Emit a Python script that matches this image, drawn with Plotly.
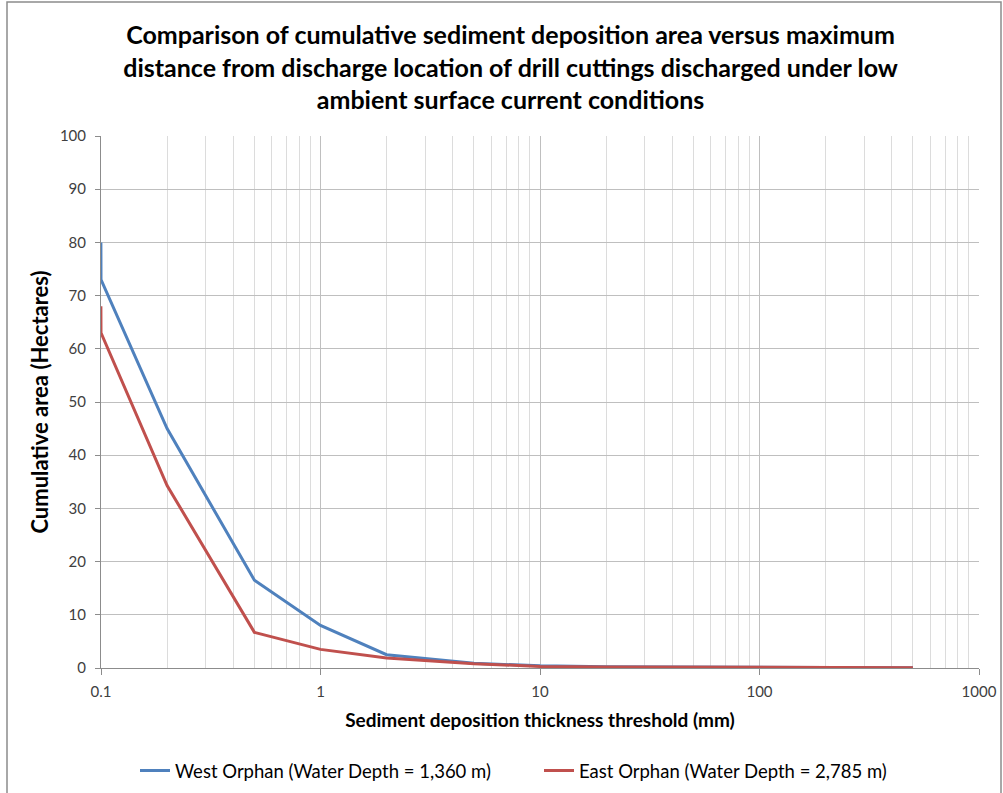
import plotly.graph_objects as go

# Data
thickness_mm = [0.0999, 0.1, 0.2, 0.5, 1, 2, 5, 10, 20, 50, 100, 200, 500]
west_area = [80, 73, 45, 16.5, 8, 2.5, 0.9, 0.4, 0.25, 0.15, 0.1, 0.08, 0.05]
east_area = [68, 63, 34.3, 6.7, 3.5, 1.9, 0.8, 0.3, 0.2, 0.15, 0.1, 0.08, 0.05]

series_names = ["West Orphan (Water Depth = 1,360 m)", "East Orphan (Water Depth = 2,785 m)"]
series_colors = ["#4F81BD", "#C0504D"]

title_text = ("Comparison of cumulative sediment deposition area versus maximum<br>"
              "distance from discharge location of drill cuttings discharged under low<br>"
              "ambient surface current conditions")

fig = go.Figure()
for name, ys, col in zip(series_names, [west_area, east_area], series_colors):
    fig.add_trace(go.Scatter(x=thickness_mm, y=ys, mode="lines", name=name,
                             line=dict(color=col, width=3), cliponaxis=True))

W, H = 1003, 793
L, R, T, B = 101, 24, 136, 125
pw, ph = W - L - R, H - T - B

def px_x(p):
    return (p - L) / pw

def px_y(p):
    return (H - B - p) / ph

fig.update_layout(
    width=W, height=H,
    margin=dict(l=L, r=R, t=T, b=B, autoexpand=False),
    paper_bgcolor="white", plot_bgcolor="white",
    font=dict(family="Lato, Open Sans, sans-serif", color="#404040"),
    title=dict(text=title_text, x=0.509, xanchor="center", y=1 - 44 / H, yanchor="top",
               font=dict(family="Lato, sans-serif", size=25, color="black", weight="bold")),
    showlegend=True,
    legend=dict(orientation="h", x=px_x(135), xanchor="left", y=px_y(771), yanchor="middle",
                font=dict(family="Lato, sans-serif", size=18.5, color="black"),
                entrywidth=359, entrywidthmode="pixels", tracegroupgap=0),
    xaxis=dict(
        type="log", range=[-1, 3], dtick=1, automargin=False,
        showgrid=True, gridcolor="#BFBFBF", gridwidth=1,
        minor=dict(dtick="D1", showgrid=True, gridcolor="#DCDCDC", gridwidth=1),
        showline=True, linecolor="#8C8C8C", linewidth=1,
        ticks="outside", ticklen=6, tickcolor="#8C8C8C",
        tickvals=[0.1, 1, 10, 100, 1000], ticktext=["0.1", "1", "10", "100", "1000"],
        tickfont=dict(size=15, color="#404040"), ticklabelstandoff=4,
        title=dict(text="Sediment deposition thickness threshold (mm)", standoff=14,
                   font=dict(size=19, color="black", weight="bold")),
        zeroline=False,
    ),
    yaxis=dict(
        range=[0, 100], dtick=10, automargin=False,
        showgrid=True, gridcolor="#BFBFBF", gridwidth=1,
        showline=True, linecolor="#8C8C8C", linewidth=1,
        ticks="outside", ticklen=5, tickcolor="#8C8C8C",
        tickfont=dict(size=15, color="#404040"), ticklabelstandoff=6,
        title=dict(text="Cumulative area (Hectares)", standoff=5,
                   font=dict(size=22, color="black", weight="bold")),
        zeroline=False,
    ),
    shapes=[dict(type="rect", xref="paper", yref="paper",
                 x0=px_x(7), x1=px_x(1001), y0=px_y(800), y1=px_y(2),
                 line=dict(color="#8C8C8C", width=1.5), fillcolor="rgba(0,0,0,0)", layer="below")],
)

fig.write_html("out.html")
